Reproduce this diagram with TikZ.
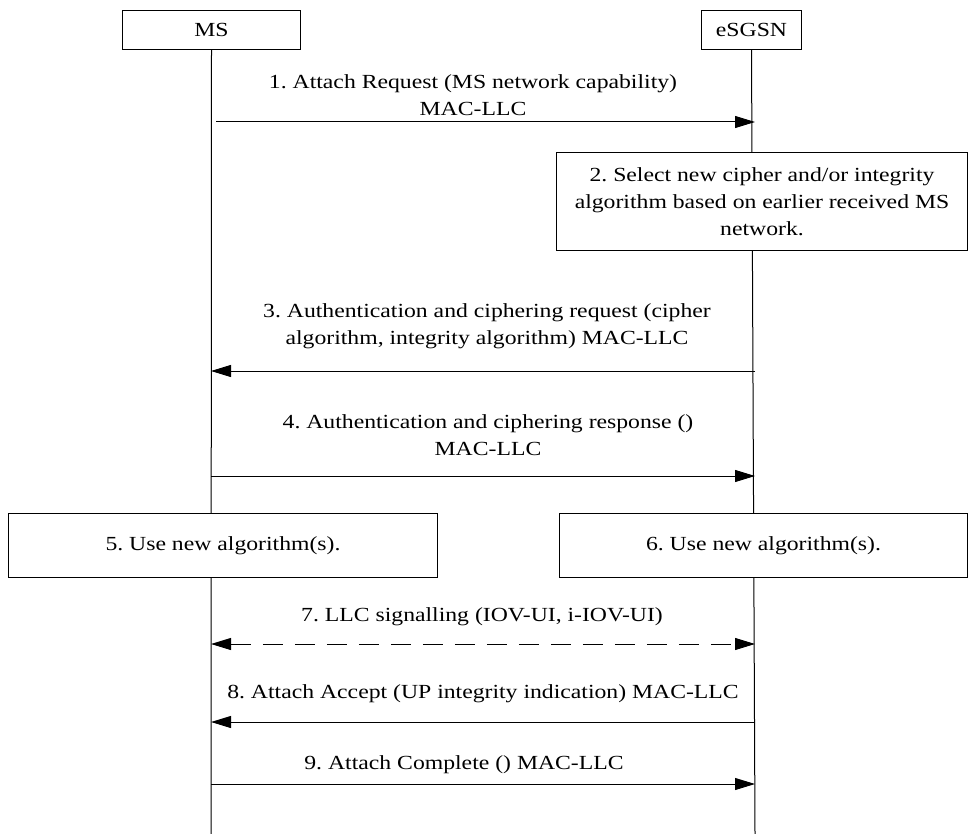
\documentclass[tikz,border=0pt]{standalone}
\usepackage{fontspec}
\setmainfont[FakeStretch=1.185]{Liberation Serif}
\usetikzlibrary{arrows.meta}
\begin{document}
\frenchspacing
\begin{tikzpicture}[x=1pt,y=-1pt,
  every node/.style={font=\fontsize{20}{27}\selectfont},
  entity/.style={draw,line width=1pt,fill=white,inner sep=0pt,anchor=north west},
  actbox/.style={draw,line width=1pt,fill=white,inner sep=0pt,align=center,anchor=north west},
  life/.style={line width=1pt},
  msg/.style={line width=1pt,-{Triangle[length=20pt,width=12pt]}},
  dmsg/.style={line width=1pt,{Triangle[length=20pt,width=12pt]}-{Triangle[length=20pt,width=12pt]},dash pattern=on 20pt off 12pt},
  lbl/.style={align=center,inner sep=0pt}]
\useasboundingbox (0,0) rectangle (968,834);
% entities
\node[entity,minimum width=178pt,minimum height=39pt] (ms) at (122,10) {MS};
\node[entity,minimum width=100pt,minimum height=39pt] (sg) at (701,10) {eSGSN};
\coordinate (msend) at (211,834);
\coordinate (sgend) at (755,834);
\draw[life] (ms.south) -- (msend);
\draw[life] (sg.south) -- (sgend);
% message endpoints
\coordinate (a1) at (216,122); \coordinate (b1) at (755,122);
\coordinate (a3) at (211,371); \coordinate (b3) at (755,371);
\coordinate (a4) at (211,476); \coordinate (b4) at (755,476);
\coordinate (a7) at (211,644); \coordinate (b7) at (755,644);
\coordinate (a8) at (211,722); \coordinate (b8) at (755,722);
\coordinate (a9) at (211,784); \coordinate (b9) at (755,784);
% 1
\node[lbl] (l1) at (473,95) {1. Attach Request (MS network capability)\\MAC-LLC};
\draw[msg] (a1) -- (b1);
% 2
\node[actbox,minimum width=411pt,minimum height=98pt] (s2) at (556,152) {2. Select new cipher and/or integrity\\algorithm based on earlier received MS\\network.};
% 3
\node[lbl] (l3) at (487,326) {3. Authentication and ciphering request (cipher\\algorithm, integrity algorithm) MAC-LLC};
\draw[msg] (b3) -- (a3);
% 4
\node[lbl] (l4) at (488,435) {4. Authentication and ciphering response ()\\MAC-LLC};
\draw[msg] (a4) -- (b4);
% 5, 6
\node[actbox,minimum width=429pt,minimum height=64pt] (s5) at (8,513) {5. Use new algorithm(s).};
\node[actbox,minimum width=408pt,minimum height=64pt] (s6) at (559,513) {6. Use new algorithm(s).};
% 7
\node[lbl] (l7) at (482,617) {7. LLC signalling (IOV-UI, i-IOV-UI)};
\draw[dmsg] (a7) -- (b7);
% 8
\node[lbl] (l8) at (483,694) {8. Attach Accept (UP integrity indication) MAC-LLC};
\draw[msg] (b8) -- (a8);
% 9
\node[lbl] (l9) at (464,765) {9. Attach Complete () MAC-LLC};
\draw[msg] (a9) -- (b9);
\end{tikzpicture}
\end{document}
